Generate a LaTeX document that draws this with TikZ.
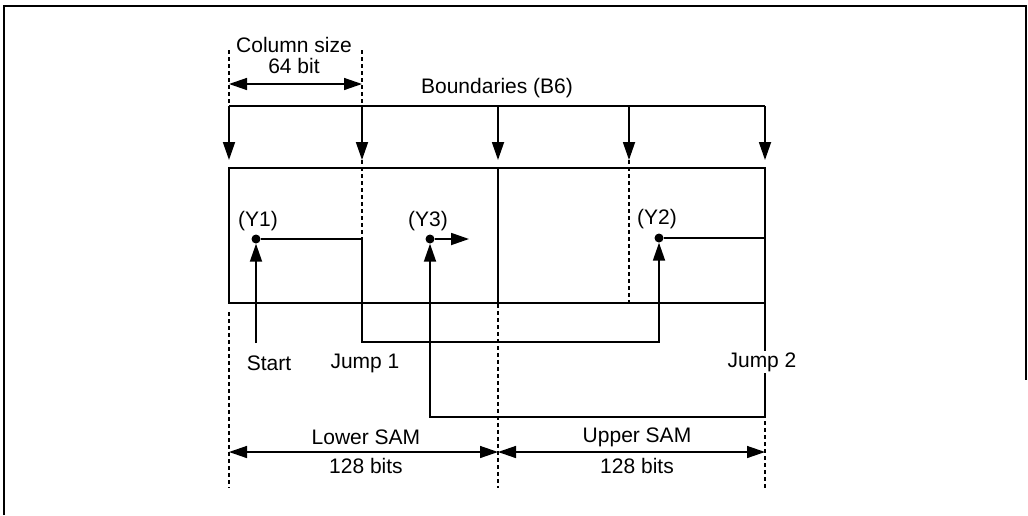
\documentclass[tikz,border=0pt]{standalone}
\usepackage{fontspec}
\setmainfont{Liberation Sans}
\usetikzlibrary{positioning,calc,arrows.meta}

\begin{document}
\begin{tikzpicture}[x=1pt,y=-1pt,font=\fontsize{21}{23}\selectfont,
  wire/.style={line width=1.8pt},
  guide/.style={line width=1.1pt,dash pattern=on 4pt off 3pt},
  pin/.style={-{Triangle[length=18pt,width=12pt]}},
  span/.style={{Triangle[length=18pt,width=12pt]}-{Triangle[length=18pt,width=12pt]},line width=1.4pt},
  dot/.style={circle,fill,inner sep=0pt,minimum size=9pt},
  lbl/.style={inner sep=1pt}]
  \useasboundingbox (0,0) rectangle (1028,515);
  % outer frame (open at the bottom)
  \draw[line width=1.4pt] (4,515) -- (4,6) -- (1026,6) -- (1026,380);

  % boundary positions
  \foreach \n/\x in {b0/229,b1/362,b2/498,b3/629,b4/765} {
    \coordinate (\n) at (\x,106);
    \coordinate (\n t) at (\x,160);
  }
  \node[lbl] (bnd) at (497,88) {Boundaries (B6)};
  \draw[wire] (b0) -- (b4);
  \foreach \n in {b0,b1,b2,b3,b4} \draw[wire,pin] (\n) -- (\n t);

  % column size
  \node[lbl] (col) at (294,45) {Column size};
  \node[lbl] (colw) at (294,66) {64 bit};
  \coordinate (c0) at (229,50);
  \coordinate (c1) at (362,50);
  \draw[guide] (c0) -- (b0);
  \draw[guide] (c1) -- (b1);
  \draw[span] (229,84) -- (362,84);

  % SAM
  \node[draw,wire,inner sep=0pt,minimum width=536pt,minimum height=135pt] (sam) at (497,235.5) {};
  \draw[wire] (b2 |- sam.north) -- (b2 |- sam.south);
  \draw[guide] (b3t) -- (b3 |- sam.south);

  % pointers
  \node[dot] (y1) at (256,239) {};
  \node[dot] (y2) at (659,238) {};
  \node[dot] (y3) at (430,239) {};
  \node[lbl] (y1l) at (258,221) {(Y1)};
  \node[lbl] (y2l) at (657,219) {(Y2)};
  \node[lbl] (y3l) at (428,221) {(Y3)};
  \draw[guide] (b1t) -- (y1 -| b1);

  \coordinate (s0) at (256,343);
  \coordinate (j1) at (362,342);
  \coordinate (j2) at (765,417);
  \coordinate (y3r) at (469,239);

  \draw[wire,pin] (s0) -- (y1);
  \draw[wire,pin] (y1) -- (y1 -| j1) -- (j1) -- (j1 -| y2) -- (y2);
  \draw[wire,pin] (y2) -- (y2 -| j2) -- (j2) -- (j2 -| y3) -- (y3);
  \draw[wire,pin] (y3) -- (y3r);

  \node[lbl] (start) at (269,363) {Start};
  \node[lbl] (jmp1) at (365,363) {Jump 1};
  \node[lbl,fill=white] (jmp2) at (762,362) {Jump 2};

  % lower / upper SAM
  \coordinate (d0) at (229,488);
  \coordinate (d1) at (498,488);
  \coordinate (d2) at (765,488);
  \draw[guide] (229,312) -- (d0);
  \draw[guide] (b2 |- sam.south) -- (d1);
  \draw[guide] (765,421) -- (d2);
  \draw[span] (229,452) -- (498,452);
  \draw[span] (498,452) -- (765,452);
  \node[lbl] (low) at (366,437) {Lower SAM};
  \node[lbl] (lowb) at (366,466) {128 bits};
  \node[lbl] (upp) at (637,437) {Upper SAM};
  \node[lbl] (uppb) at (637,466) {128 bits};
\end{tikzpicture}
\end{document}
